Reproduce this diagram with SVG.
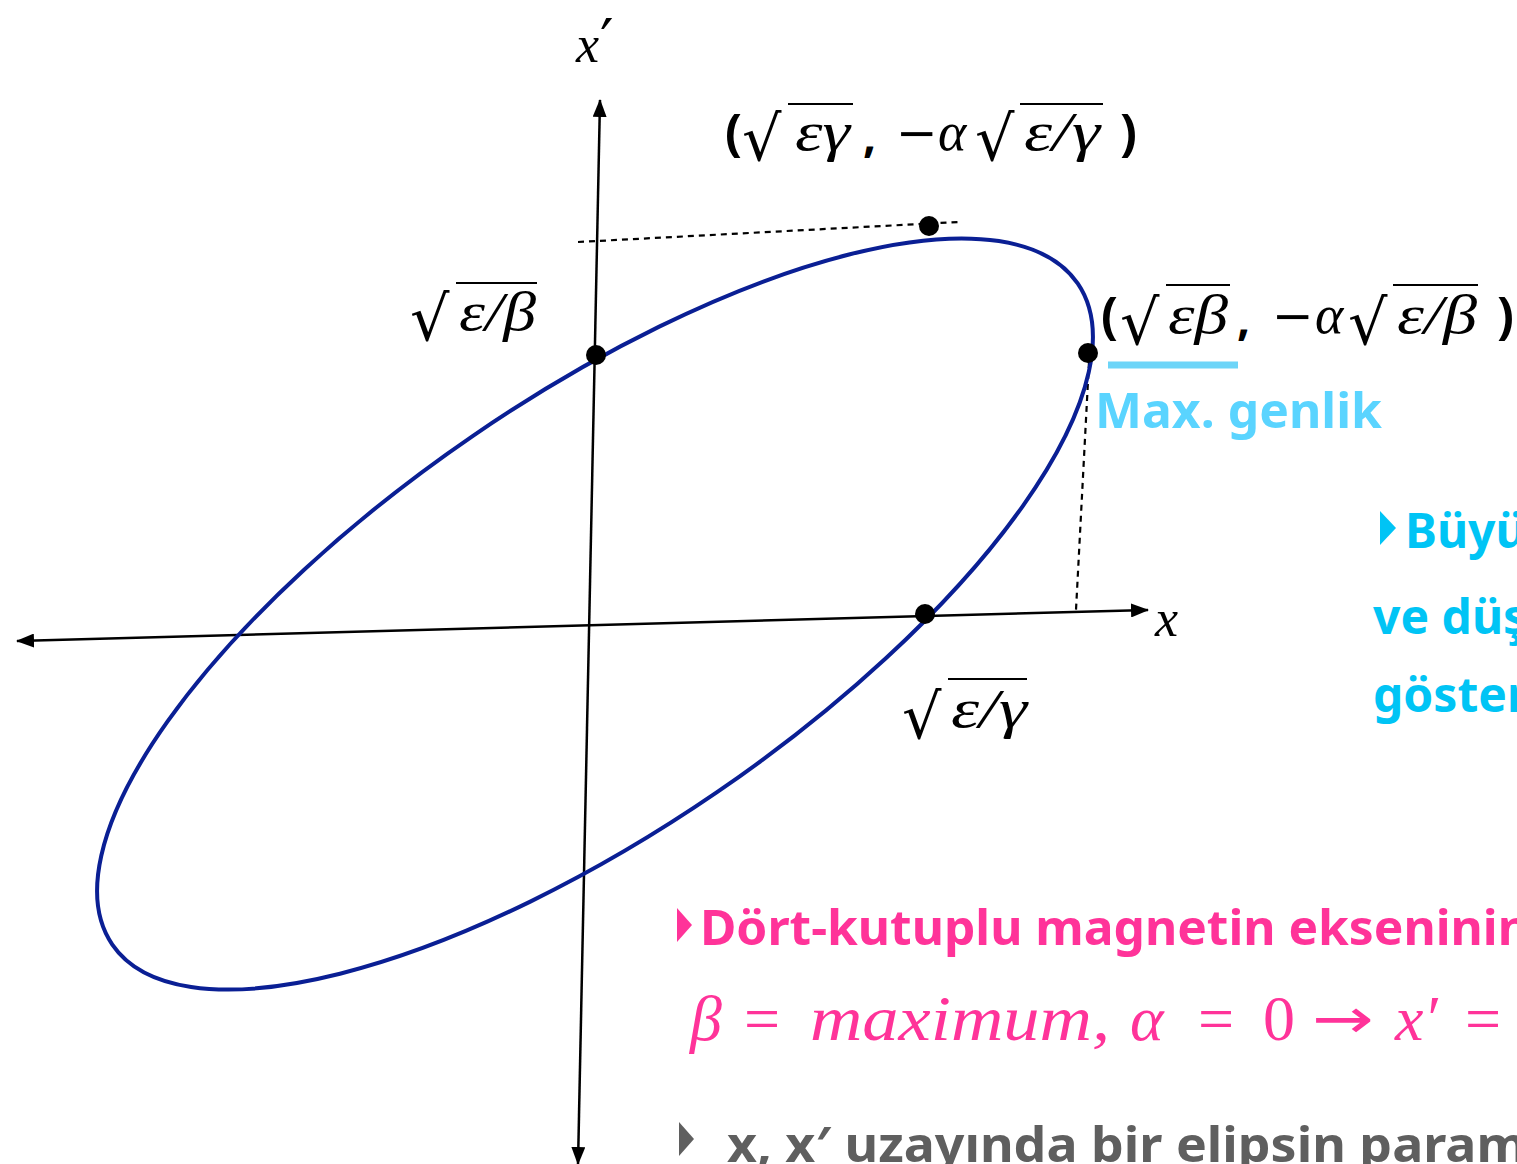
<svg xmlns="http://www.w3.org/2000/svg" width="1517" height="1164" viewBox="0 0 1517 1164">
<style>
.axis{stroke:#000;stroke-width:2.5;fill:none}
.dash{stroke:#000;stroke-width:2.2;stroke-dasharray:6,5;fill:none}
.dot{fill:#000}
.m{font-family:"DejaVu Serif","Liberation Serif",serif;fill:#000}
.mi{font-family:"Liberation Serif",serif;font-style:italic;fill:#000}
.vin{stroke:#000;stroke-width:2}
.par{font-family:"Noto Sans","Liberation Sans",sans-serif;font-weight:bold;fill:#000}
.rad{font-family:"DejaVu Sans",sans-serif;fill:#000}
.bul{font-family:"Noto Sans","Liberation Sans",sans-serif;font-weight:bold}
.pm{font-family:"Liberation Serif",serif;fill:#ff3399;font-size:64px}
.it{font-style:italic}
</style>
<defs>
<marker id="ah" markerWidth="18" markerHeight="14" refX="17" refY="7" orient="auto-start-reverse" markerUnits="userSpaceOnUse" viewBox="0 0 18 14">
<path d="M0,0 L18,7 L0,14 z" fill="#000"/>
</marker>
</defs>
<rect width="1517" height="1164" fill="#fff"/>
<g id="connectors">
<line class="axis" x1="578" y1="1164" x2="600" y2="100" marker-start="url(#ah)" marker-end="url(#ah)"/>
<line class="axis" x1="17" y1="641" x2="1148" y2="610" marker-start="url(#ah)" marker-end="url(#ah)"/>
<line class="dash" x1="578" y1="242" x2="958" y2="222"/>
<line class="dash" x1="1089" y1="362" x2="1076" y2="610"/>
</g>
<g id="ellipse">
<ellipse cx="595" cy="614" rx="585" ry="216" transform="rotate(-34.4 595 614)" fill="none" stroke="#0a1f94" stroke-width="4"/>
</g>
<g id="points">
<circle class="dot" cx="596" cy="355" r="10"/>
<circle class="dot" cx="1088" cy="353" r="10"/>
<circle class="dot" cx="925" cy="614" r="10"/>
<circle class="dot" cx="929" cy="226" r="10"/>
</g>
<g id="label-xp">
<text class="mi" x="576" y="62" font-size="52">x</text>
<text font-family="DejaVu Sans,sans-serif" x="600" y="62" font-size="60" fill="#000">′</text>
</g>
<g id="label-x">
<text class="mi" x="1155" y="636" font-size="52">x</text>
</g>
<g id="label-top">
<text class="par" x="725" y="150" font-size="50">(</text>
<text class="rad" x="742" y="160" font-size="62">√</text>
<line class="vin" x1="788" y1="104" x2="853" y2="104"/>
<text class="mi" x="795" y="150" font-size="54" textLength="55" lengthAdjust="spacingAndGlyphs">εγ</text>
<text class="par" x="863" y="152" font-size="46">,</text>
<text class="m" x="896" y="150" font-size="50">−</text>
<text class="mi" x="938" y="150" font-size="54">α</text>
<text class="rad" x="975" y="160" font-size="62">√</text>
<line class="vin" x1="1020" y1="104" x2="1103" y2="104"/>
<text class="mi" x="1024" y="150" font-size="54" textLength="76" lengthAdjust="spacingAndGlyphs">ε/γ</text>
<text class="par" x="1120" y="150" font-size="50">)</text>
</g>
<g id="label-right">
<text class="par" x="1101" y="333" font-size="50">(</text>
<text class="rad" x="1120" y="344" font-size="62">√</text>
<line class="vin" x1="1166" y1="285" x2="1230" y2="285"/>
<text class="mi" x="1168" y="333" font-size="54" textLength="60" lengthAdjust="spacingAndGlyphs">εβ</text>
<text class="par" x="1237" y="335" font-size="46">,</text>
<text class="m" x="1272" y="333" font-size="50">−</text>
<text class="mi" x="1315" y="333" font-size="54">α</text>
<text class="rad" x="1348" y="344" font-size="62">√</text>
<line class="vin" x1="1393" y1="285" x2="1478" y2="285"/>
<text class="mi" x="1397" y="333" font-size="54" textLength="80" lengthAdjust="spacingAndGlyphs">ε/β</text>
<text class="par" x="1497" y="333" font-size="50">)</text>
</g>
<g id="label-left">
<text class="rad" x="410" y="340" font-size="62">√</text>
<line class="vin" x1="456" y1="283" x2="537" y2="283"/>
<text class="mi" x="459" y="330" font-size="54" textLength="77" lengthAdjust="spacingAndGlyphs">ε/β</text>
</g>
<g id="label-bottom">
<text class="rad" x="902" y="738" font-size="62">√</text>
<line class="vin" x1="948" y1="679" x2="1027" y2="679"/>
<text class="mi" x="951" y="727" font-size="54" textLength="76" lengthAdjust="spacingAndGlyphs">ε/γ</text>
</g>
<g id="max-genlik">
<line x1="1108" y1="365" x2="1238" y2="365" stroke="#6dd5f8" stroke-width="7"/>
<text class="bul" x="1095" y="428" font-size="48" fill="#5ad4ff" textLength="287" lengthAdjust="spacingAndGlyphs">Max. genlik</text>
</g>
<g id="cyan-text">
<polygon points="1380,511 1396,528 1380,545" fill="#00c4f5"/>
<text class="bul" x="1405" y="548" font-size="48" fill="#00c4f5">Büyü</text>
<text class="bul" x="1373" y="634" font-size="48" fill="#00c4f5">ve düş</text>
<text class="bul" x="1373" y="712" font-size="48" fill="#00c4f5">göster</text>
</g>
<g id="pink-text">
<polygon points="677,908 692,925 677,942" fill="#ff3399"/>
<text class="bul" x="700" y="945" font-size="48" fill="#ff3399" textLength="830" lengthAdjust="spacingAndGlyphs">Dört-kutuplu magnetin ekseninin</text>
<text class="pm it" x="690" y="1040">β</text>
<text class="pm" x="744" y="1040">=</text>
<text class="pm it" x="810" y="1040" textLength="300" lengthAdjust="spacingAndGlyphs">maximum,</text>
<text class="pm it" x="1130" y="1040">α</text>
<text class="pm" x="1198" y="1040">=</text>
<text class="pm" x="1263" y="1040">0</text>
<text x="1312" y="1038" font-family="DejaVu Sans,sans-serif" font-size="56" fill="#ff3399" textLength="62" lengthAdjust="spacingAndGlyphs">→</text>
<text class="pm it" x="1395" y="1040">x′</text>
<text class="pm" x="1465" y="1040">=</text>
</g>
<g id="gray-text">
<polygon points="679,1122 694,1139 679,1156" fill="#5f5f5f"/>
<text class="bul" x="727" y="1162" font-size="48" fill="#5f5f5f" textLength="800" lengthAdjust="spacingAndGlyphs">x, x′ uzayında bir elipsin param</text>
</g>
</svg>
